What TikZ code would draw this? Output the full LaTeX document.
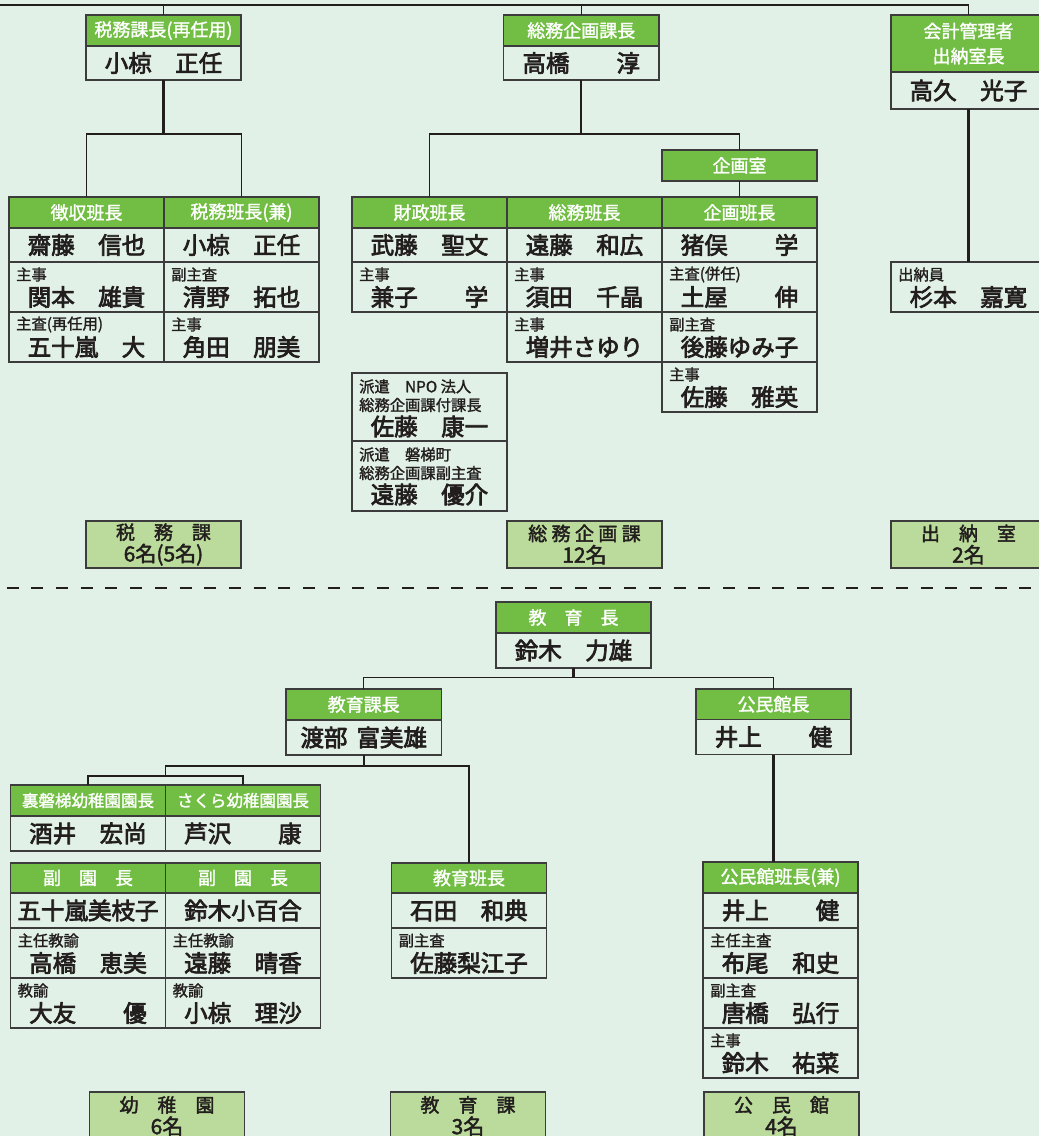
\documentclass[tikz,border=0pt]{standalone}
\usepackage{fontspec}
\setmainfont{Noto Sans CJK JP}
\newfontfamily\jpname[FakeBold=3]{Noto Sans CJK JP}
\newfontfamily\jpmid[FakeBold=1.5]{Noto Sans CJK JP}
\newfontfamily\jpsum[FakeBold=2]{Noto Sans CJK JP}
\definecolor{bg}{RGB}{225,241,231}
\definecolor{hdr}{RGB}{114,190,68}
\definecolor{sumg}{RGB}{186,219,155}
\definecolor{bord}{RGB}{60,60,60}
\definecolor{ink}{RGB}{35,30,30}
\newcommand\hdfont{\jpmid\fontsize{18}{25}\selectfont}
\newcommand\hdsfont{\jpmid\fontsize{16.5}{20}\selectfont}
\newcommand\nmfont{\jpname\fontsize{23.5}{28}\selectfont}
\newcommand\ttlfont{\jpmid\fontsize{15.3}{18.5}\selectfont}
\newcommand\smfont{\jpsum\fontsize{19}{22}\selectfont}
\newcommand\smnum{\fontsize{21}{22}\selectfont}
\newcommand\ls{\hspace{4.4pt}}
\tikzset{
  bx/.style={draw=bord, line width=1.2pt, inner sep=0pt, outer sep=0pt, anchor=north west},
  hd/.style={bx, fill=hdr, text=white, font=\hdfont, align=center},
  nm/.style={bx, fill=bg, text=ink, font=\nmfont},
  rw/.style={bx, fill=bg},
  ttl/.style={inner sep=0pt, anchor=west, text=ink, font=\ttlfont},
  nmt/.style={inner sep=0pt, text=ink, font=\nmfont},
  sm/.style={bx, fill=sumg, text=ink, font=\smfont, align=center},
  ln/.style={draw=ink, line width=1.3pt},
  lnk/.style={draw=ink, line width=2.2pt},
}
% header: [opt] name x y w h text
\newcommand\Hd[7][]{\node[hd,minimum width=#5pt,minimum height=#6pt,#1] (#2) at (#3,#4) {#7};}
% name row: name x y w h text
\newcommand\Nm[6]{\node[nm,minimum width=#4pt,minimum height=#5pt] (#1) at (#2,#3) {#6};}
% titled row: name x y w title person
\newcommand\Rw[6]{%
  \node[rw,minimum width=#4pt,minimum height=50pt] (#1) at (#2,#3) {};
  \node[ttl] (#1t) at ([xshift=7pt,yshift=-12.5pt]#1.north west) {#5};
  \node[nmt] (#1n) at ([yshift=-35pt]#1.north) {#6};}
% dispatched row: name x y h line1 line2 person
\newcommand\Hk[7]{%
  \node[rw,minimum width=155pt,minimum height=#4pt] (#1) at (#2,#3) {};
  \node[ttl] (#1a) at ([xshift=7pt,yshift=-13.5pt]#1.north west) {#5};
  \node[ttl] (#1b) at ([xshift=7pt,yshift=-32pt]#1.north west) {#6};
  \node[nmt] (#1n) at ([yshift=-53.5pt]#1.north) {#7};}
\begin{document}
\begin{tikzpicture}[x=1pt,y=-1pt]
\useasboundingbox (0,0) rectangle (1039,1136);
\clip (0,0) rectangle (1039,1136);
\fill[bg] (0,0) rectangle (1039,1136);

% ---------- top level ----------
\Hd{b1h}{86}{15}{155}{31}{税務課長(再任用)}
\Nm{b1n}{86}{46}{155}{34}{小椋　正任}
\Hd{b2h}{503.5}{15}{155.5}{31}{総務企画課長}
\Nm{b2n}{503.5}{46}{155.5}{34}{高橋　　淳}
\Hd{b3h}{891}{15}{155}{57}{会計管理者\\出納室長}
\Nm{b3n}{891}{72}{155}{37}{高久　光子}

% tax section
\Hd{c1h}{9}{197}{155}{31}{徴収班長}
\Nm{c1n}{9}{228}{155}{34}{齋藤　信也}
\Rw{c1a}{9}{262}{155}{主事}{関本　雄貴}
\Rw{c1b}{9}{312}{155}{主査(再任用)}{五十嵐　大}
\Hd{c2h}{164}{197}{155}{31}{税務班長(兼)}
\Nm{c2n}{164}{228}{155}{34}{小椋　正任}
\Rw{c2a}{164}{262}{155}{副主査}{清野　拓也}
\Rw{c2b}{164}{312}{155}{主事}{角田　朋美}

% general affairs section
\Hd{kroom}{662}{150}{155}{31}{企画室}
\Hd{d1h}{352}{197}{155}{31}{財政班長}
\Nm{d1n}{352}{228}{155}{34}{武藤　聖文}
\Rw{d1a}{352}{262}{155}{主事}{兼子　　学}
\Hd{d2h}{507}{197}{155}{31}{総務班長}
\Nm{d2n}{507}{228}{155}{34}{遠藤　和広}
\Rw{d2a}{507}{262}{155}{主事}{須田　千晶}
\Rw{d2b}{507}{312}{155}{主事}{増井さゆり}
\Hd{d3h}{662}{197}{155}{31}{企画班長}
\Nm{d3n}{662}{228}{155}{34}{猪俣　　学}
\Rw{d3a}{662}{262}{155}{主査(併任)}{土屋　　伸}
\Rw{d3b}{662}{312}{155}{副主査}{後藤ゆみ子}
\Rw{d3c}{662}{362}{155}{主事}{佐藤　雅英}
\Hk{hk1}{352}{373}{68}{派遣　NPO 法人}{総務企画課付課長}{佐藤　康一}
\Hk{hk2}{352}{441}{70}{派遣　磐梯町}{総務企画課副主査}{遠藤　優介}

% cashier
\Rw{x1}{891}{262}{155}{出納員}{杉本　嘉寛}

% summaries
\node[sm,minimum width=155pt,minimum height=47pt] (s1) at (86,521) {税　務　課\\{\smnum 6名(5名)}};
\node[sm,minimum width=155pt,minimum height=47pt] (s2) at (507,521) {総\ls 務\ls 企\ls 画\ls 課\\{\smnum 12名}};
\node[sm,minimum width=155pt,minimum height=47pt] (s3) at (891,521) {出　納　室\\{\smnum 2名}};

% connectors top
\coordinate (tl) at (0,5);
\coordinate (j1) at (0,134);
\draw[ln] (tl) -| (b3h.north);
\draw[ln] (b1h.north) -- (b1h.north |- tl);
\draw[ln] (b2h.north) -- (b2h.north |- tl);
\draw[lnk] (b1n.south) -- (b1n.south |- j1);
\draw[ln] (c1h.north) -- (c1h.north |- j1) -- (c2h.north |- j1) -- (c2h.north);
\draw[lnk] (b2n.south) -- (b2n.south |- j1);
\draw[ln] (d1h.north) -- (d1h.north |- j1) -- (kroom.north |- j1) -- (kroom.north);
\draw[ln] (kroom.south) -- (d3h.north);
\draw[lnk] (b3n.south) -- (b3n.south |- x1.north);

% dashed separator
\coordinate (dl) at (6.6,588);
\coordinate (dr) at (1039,588);
\draw[ln, dash pattern=on 12pt off 12.7pt] (dl) -- (dr);

% ---------- education ----------
\Hd{e0h}{496}{602}{155}{31}{教　育　長}
\Nm{e0n}{496}{633}{155}{35}{鈴木　力雄}
\Hd{e1h}{286}{689}{155.5}{31}{教育課長}
\Nm{e1n}{286}{720}{155.5}{35}{渡部\hspace{9pt}富美雄}
\Hd{e2h}{696}{689}{155}{30.5}{公民館長}
\Nm{e2n}{696}{719.5}{155}{35}{井上　　健}

\Hd[font=\hdsfont]{k1h}{10.5}{785}{155}{31}{裏磐梯幼稚園園長}
\Nm{k1n}{10.5}{816}{155}{35}{酒井　宏尚}
\Hd[font=\hdsfont]{k2h}{165.5}{785}{155}{31}{さくら幼稚園園長}
\Nm{k2n}{165.5}{816}{155}{35}{芦沢　　康}

\Hd{v1h}{10.5}{863}{155}{30}{副　園　長}
\Nm{v1n}{10.5}{893}{155}{35}{五十嵐美枝子}
\Rw{v1a}{10.5}{928}{155}{主任教諭}{高橋　恵美}
\Rw{v1b}{10.5}{978}{155}{教諭}{大友　　優}
\Hd{v2h}{165.5}{863}{155}{30}{副　園　長}
\Nm{v2n}{165.5}{893}{155}{35}{鈴木小百合}
\Rw{v2a}{165.5}{928}{155}{主任教諭}{遠藤　晴香}
\Rw{v2b}{165.5}{978}{155}{教諭}{小椋　理沙}

\Hd{f1h}{391.5}{863}{155}{30}{教育班長}
\Nm{f1n}{391.5}{893}{155}{35}{石田　和典}
\Rw{f1a}{391.5}{928}{155}{副主査}{佐藤梨江子}

\Hd{g1h}{703}{862}{155}{31}{公民館班長(兼)}
\Nm{g1n}{703}{893}{155}{35}{井上　　健}
\Rw{g1a}{703}{928}{155}{主任主査}{布尾　和史}
\Rw{g1b}{703}{978}{155}{副主査}{唐橋　弘行}
\Rw{g1c}{703}{1028}{155}{主事}{鈴木　祐菜}

\node[sm,minimum width=155pt,minimum height=48pt] (s4) at (89.5,1092) {幼　稚　園\\{\smnum 6名}};
\node[sm,minimum width=155pt,minimum height=48pt] (s5) at (390.5,1092) {教　育　課\\{\smnum 3名}};
\node[sm,minimum width=155pt,minimum height=48pt] (s6) at (704,1092) {公　民　館\\{\smnum 4名}};

% connectors bottom
\coordinate (j4) at (0,677.3);
\coordinate (j5) at (0,766);
\coordinate (j6) at (165.5,776);
\draw[lnk] (e0n.south) -- (e0n.south |- j4);
\draw[ln] (e1h.north) -- (e1h.north |- j4) -- (e2h.north |- j4) -- (e2h.north);
\draw[lnk] (e1n.south) -- (e1n.south |- j5);
\draw[ln] (k1h.north) |- (j6) -| (k2h.north);
\draw[ln] (j6) -- (j6 |- j5) -- (f1h.north |- j5) -- (f1h.north);
\draw[lnk] (e2n.south) -- (e2n.south |- g1h.north);
\end{tikzpicture}
\end{document}
